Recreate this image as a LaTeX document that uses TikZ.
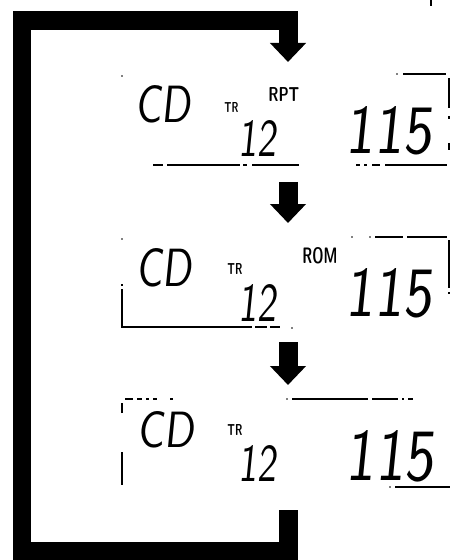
\documentclass[tikz,border=0pt]{standalone}
\usepackage{graphicx}
\usetikzlibrary{arrows.meta,backgrounds}
\pgfdeclarelayer{edgelayer}
\pgfdeclarelayer{nodelayer}
\pgfsetlayers{background,edgelayer,nodelayer,main}
\tikzstyle{none}=[inner sep=0mm]
\tikzstyle{lcd}=[inner sep=0mm,anchor=south west,xslant=0.1]
\tikzstyle{tag}=[inner sep=0mm,anchor=south west]
\tikzstyle{frame}=[line width=0.9pt]
\tikzstyle{speck}=[fill=black,inner sep=0mm,minimum size=0.9pt,shape=circle]
\tikzstyle{bigflow}=[line width=0.38cm,line join=miter,-{Triangle[length=0.38cm,width=0.7cm]}]
\newcommand{\lcdtxt}[3]{\resizebox{#1}{#2}{\sffamily #3}}
\newcommand{\tagtxt}[3]{\resizebox{#1}{#2}{\sffamily\bfseries #3}}

\begin{document}
\begin{tikzpicture}[x=0.02cm,y=-0.02cm]
	\useasboundingbox (0,0) rectangle (452,560);
	\begin{pgfonlayer}{nodelayer}
		% first display
		\node [style=lcd] (cd1) at (135, 123) {\lcdtxt{1.12cm}{0.74cm}{CD}};
		\node [style=tag] (tr1) at (224, 113) {\tagtxt{0.28cm}{0.2cm}{TR}};
		\node [style=tag] (rpt1) at (268, 102) {\tagtxt{0.62cm}{0.28cm}{RPT}};
		\node [style=lcd] (trk1) at (238, 157) {\lcdtxt{0.76cm}{0.72cm}{12}};
		\node [style=lcd] (time1) at (345, 155) {\lcdtxt{1.74cm}{0.94cm}{115}};
		% second display
		\node [style=lcd] (cd2) at (136, 287) {\lcdtxt{1.12cm}{0.76cm}{CD}};
		\node [style=tag] (tr2) at (227, 275) {\tagtxt{0.3cm}{0.22cm}{TR}};
		\node [style=tag] (rom2) at (302, 264) {\tagtxt{0.7cm}{0.32cm}{ROM}};
		\node [style=lcd] (trk2) at (238, 322) {\lcdtxt{0.76cm}{0.74cm}{12}};
		\node [style=lcd] (time2) at (345, 318) {\lcdtxt{1.74cm}{0.96cm}{115}};
		% third display
		\node [style=lcd] (cd3) at (137, 448) {\lcdtxt{1.14cm}{0.72cm}{CD}};
		\node [style=tag] (tr3) at (227, 436) {\tagtxt{0.3cm}{0.22cm}{TR}};
		\node [style=lcd] (trk3) at (238, 482) {\lcdtxt{0.76cm}{0.72cm}{12}};
		\node [style=lcd] (time3) at (345, 482) {\lcdtxt{1.78cm}{1.0cm}{115}};
		% flow ends
		\coordinate (back) at (288, 510);
		\coordinate (in1) at (288, 62);
		\coordinate (out1) at (288, 182);
		\coordinate (in2) at (288, 223);
		\coordinate (out2) at (288, 342);
		\coordinate (in3) at (288, 385);
	\end{pgfonlayer}
	\begin{pgfonlayer}{edgelayer}
		\draw [style=bigflow] (back) |- (22, 551.5) -- (22, 21) -| (in1);
		\draw [style=bigflow] (out1) to (in2);
		\draw [style=bigflow] (out2) to (in3);
		\draw [line width=0.04cm] (431, 0) -- (431, 6);
		% frame of display 1
		\node [style=speck] (d1) at (122, 76) {};
		\draw [style=frame] (153, 165) -- (163, 165) (167, 165) -- (240, 165) (243, 165) -- (247, 165) (252, 165) -- (299, 165);
		\draw [style=frame] (356, 165) -- (360, 165) (364, 165) -- (367, 165) (372, 165) -- (380, 165) (385, 165) -- (447, 165);
		\node [style=speck] (d2) at (397, 74) {};
		\draw [style=frame] (403, 74) -- (446, 74);
		\draw [style=frame] (449, 78) -- (449, 108) (449, 116) -- (449, 119) (449, 143) -- (449, 150);
		% frame of display 2
		\node [style=speck] (d3) at (122, 239) {};
		\draw [style=frame] (122, 284) -- (122, 286) (122, 289) -- (122, 327) -- (252, 327) (255, 327) -- (267, 327) (270, 327) -- (280, 327);
		\node [style=speck] (d4) at (292, 328) {};
		\node [style=speck] (d5) at (352, 237) {};
		\node [style=speck] (d6) at (370, 237) {};
		\draw [style=frame] (375, 237) -- (403, 237) (407, 237) -- (447, 237);
		\draw [style=frame] (449, 240) -- (449, 288) (449, 292) -- (449, 294);
		% frame of display 3
		\draw [style=frame] (122, 413) -- (122, 403) (125, 399) -- (133, 399) (137, 399) -- (142, 399) (146, 399) -- (149, 399) (153, 399) -- (157, 399) (170, 399) -- (173, 399);
		\draw [style=frame] (122, 452) -- (122, 485);
		\node [style=speck] (d7) at (287, 399) {};
		\draw [style=frame] (292, 399) -- (368, 399) (372, 399) -- (398, 399) (402, 399) -- (404, 399) (408, 399) -- (413, 399);
		\node [style=speck] (d8) at (390, 487) {};
		\draw [style=frame] (395, 487) -- (450, 487);
	\end{pgfonlayer}
\end{tikzpicture}
\end{document}
